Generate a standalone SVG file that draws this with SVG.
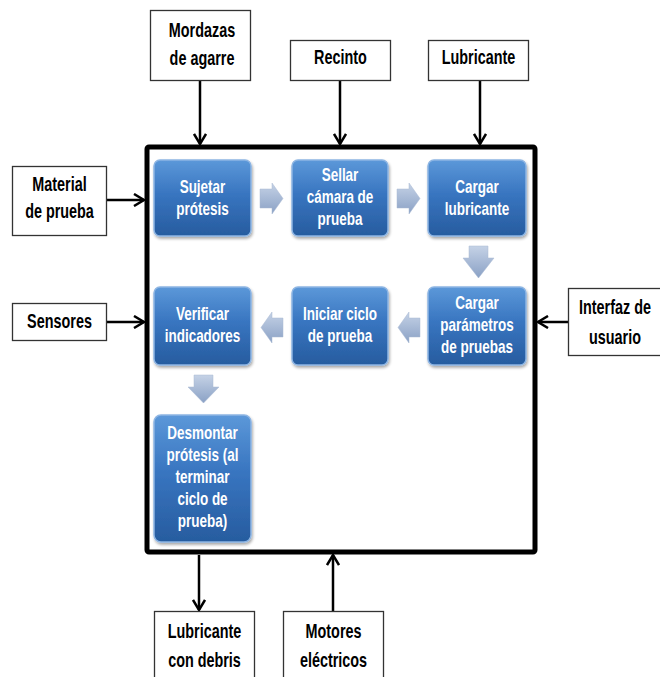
<svg xmlns="http://www.w3.org/2000/svg" width="660" height="677" viewBox="0 0 660 677">
<defs>
<linearGradient id="gb" x1="0" y1="0" x2="0" y2="1">
<stop offset="0" stop-color="#5C98D9"/>
<stop offset="0.45" stop-color="#3875C0"/>
<stop offset="1" stop-color="#275C9F"/>
</linearGradient>
<linearGradient id="ga" x1="0" y1="0" x2="0" y2="1">
<stop offset="0" stop-color="#C5D2E6"/>
<stop offset="1" stop-color="#8AA1C5"/>
</linearGradient>
<filter id="sh" x="-10%" y="-10%" width="130%" height="130%">
<feGaussianBlur in="SourceAlpha" stdDeviation="1.5"/>
<feOffset dx="1" dy="2" result="o"/>
<feComponentTransfer><feFuncA type="linear" slope="0.35"/></feComponentTransfer>
<feMerge><feMergeNode/><feMergeNode in="SourceGraphic"/></feMerge>
</filter>
<marker id="ah" markerUnits="userSpaceOnUse" markerWidth="14" markerHeight="14" viewBox="0 0 14 14" refX="12" refY="7" orient="auto">
<path d="M2,1 L12,7 L2,13" fill="none" stroke="#000" stroke-width="2.5"/>
</marker>
<style>
.bx{fill:url(#gb);stroke:#8DB5E3;stroke-width:1.5;filter:url(#sh)}
.wt{font-family:"Liberation Sans",Arial,sans-serif;font-weight:bold;font-size:18px;fill:#fff;text-anchor:middle}
.lb{fill:#fff;stroke:#333;stroke-width:1.3}
.kt{font-family:"Liberation Sans",Arial,sans-serif;font-weight:bold;font-size:20px;fill:#000;text-anchor:middle}
.ar{fill:url(#ga);stroke:#A9B9D3;stroke-width:0.5}
.cn{stroke:#000;stroke-width:2.5;fill:none;marker-end:url(#ah)}
</style>
</defs>
<rect width="660" height="677" fill="#fff"/>
<g id="system">
<rect x="147" y="147" width="388" height="405" fill="none" stroke="#000" stroke-width="5" rx="2"/>
</g>
<g id="connectors">
<line class="cn" x1="200" y1="80" x2="200" y2="144"/>
<line class="cn" x1="340" y1="80" x2="340" y2="144"/>
<line class="cn" x1="480" y1="80" x2="480" y2="144"/>
<line class="cn" x1="105" y1="200" x2="144" y2="200"/>
<line class="cn" x1="105" y1="322" x2="144" y2="322"/>
<line class="cn" x1="568" y1="322" x2="538" y2="322"/>
<line class="cn" x1="199" y1="555" x2="199" y2="610"/>
<line class="cn" x1="333" y1="611" x2="333" y2="555"/>
</g>
<g id="flow-arrows">
<path class="ar" d="M260,189 H272 V183 L283,198.5 L272,214 V208 H260 Z"/>
<path class="ar" d="M397,189 H409 V183 L420,198.5 L409,214 V208 H397 Z"/>
<path class="ar" d="M469,246 V258 H463 L478.5,278 L494,258 H488 V246 Z"/>
<path class="ar" d="M283,318 H272 V312 L261,327.5 L272,343 V337 H283 Z"/>
<path class="ar" d="M420,318 H409 V312 L398,327.5 L409,343 V337 H420 Z"/>
<path class="ar" d="M194,375 V387 H188 L203.5,403 L219,387 H213 V375 Z"/>
</g>
<g id="n-sujetar">
<rect class="bx" x="154" y="160" width="97" height="76" rx="6"/>
<text class="wt" transform="translate(202.5 193) scale(0.75 1)">Sujetar</text>
<text class="wt" transform="translate(202.5 215) scale(0.75 1)">prótesis</text>
</g>
<g id="n-sellar">
<rect class="bx" x="292" y="160" width="96" height="76" rx="6"/>
<text class="wt" transform="translate(340 181) scale(0.75 1)">Sellar</text>
<text class="wt" transform="translate(340 203) scale(0.75 1)">cámara de</text>
<text class="wt" transform="translate(340 225) scale(0.75 1)">prueba</text>
</g>
<g id="n-cargar-lub">
<rect class="bx" x="428" y="160" width="98" height="76" rx="6"/>
<text class="wt" transform="translate(477 193) scale(0.75 1)">Cargar</text>
<text class="wt" transform="translate(477 215) scale(0.75 1)">lubricante</text>
</g>
<g id="n-verificar">
<rect class="bx" x="154" y="287" width="97" height="78" rx="6"/>
<text class="wt" transform="translate(202.5 320) scale(0.75 1)">Verificar</text>
<text class="wt" transform="translate(202.5 342) scale(0.75 1)">indicadores</text>
</g>
<g id="n-iniciar">
<rect class="bx" x="292" y="287" width="96" height="78" rx="6"/>
<text class="wt" transform="translate(340 320) scale(0.75 1)">Iniciar ciclo</text>
<text class="wt" transform="translate(340 342) scale(0.75 1)">de prueba</text>
</g>
<g id="n-cargar-par">
<rect class="bx" x="428" y="287" width="98" height="78" rx="6"/>
<text class="wt" transform="translate(477 309) scale(0.75 1)">Cargar</text>
<text class="wt" transform="translate(477 331) scale(0.75 1)">parámetros</text>
<text class="wt" transform="translate(477 353) scale(0.75 1)">de pruebas</text>
</g>
<g id="n-desmontar">
<rect class="bx" x="154" y="415" width="97" height="127" rx="7"/>
<text class="wt" transform="translate(202.5 439) scale(0.75 1)">Desmontar</text>
<text class="wt" transform="translate(202.5 461) scale(0.75 1)">prótesis (al</text>
<text class="wt" transform="translate(202.5 483) scale(0.75 1)">terminar</text>
<text class="wt" transform="translate(202.5 505) scale(0.75 1)">ciclo de</text>
<text class="wt" transform="translate(202.5 527) scale(0.75 1)">prueba)</text>
</g>
<g id="n-mordazas">
<rect class="lb" x="150.5" y="10.5" width="100" height="70"/>
<text class="kt" transform="translate(202 37) scale(0.72 1)">Mordazas</text>
<text class="kt" transform="translate(202 65) scale(0.72 1)">de agarre</text>
</g>
<g id="n-recinto">
<rect class="lb" x="290.5" y="40.5" width="100" height="40"/>
<text class="kt" transform="translate(340.5 64) scale(0.72 1)">Recinto</text>
</g>
<g id="n-lubricante">
<rect class="lb" x="428.5" y="40.5" width="100" height="40"/>
<text class="kt" transform="translate(478.5 64) scale(0.72 1)">Lubricante</text>
</g>
<g id="n-material">
<rect class="lb" x="12.5" y="166.5" width="94" height="69"/>
<text class="kt" transform="translate(59.5 191) scale(0.72 1)">Material</text>
<text class="kt" transform="translate(59.5 218) scale(0.72 1)">de prueba</text>
</g>
<g id="n-sensores">
<rect class="lb" x="12.5" y="303.5" width="94" height="37"/>
<text class="kt" transform="translate(59.5 328) scale(0.72 1)">Sensores</text>
</g>
<g id="n-interfaz">
<rect class="lb" x="568.5" y="288.5" width="95" height="67"/>
<text class="kt" transform="translate(615 314) scale(0.72 1)">Interfaz de</text>
<text class="kt" transform="translate(615 344) scale(0.72 1)">usuario</text>
</g>
<g id="n-lub-debris">
<rect class="lb" x="154.5" y="611.5" width="100" height="70"/>
<text class="kt" transform="translate(204.5 638) scale(0.72 1)">Lubricante</text>
<text class="kt" transform="translate(204.5 667) scale(0.72 1)">con debris</text>
</g>
<g id="n-motores">
<rect class="lb" x="283.5" y="611.5" width="100" height="70"/>
<text class="kt" transform="translate(333.5 638) scale(0.72 1)">Motores</text>
<text class="kt" transform="translate(333.5 667) scale(0.72 1)">eléctricos</text>
</g>
</svg>
